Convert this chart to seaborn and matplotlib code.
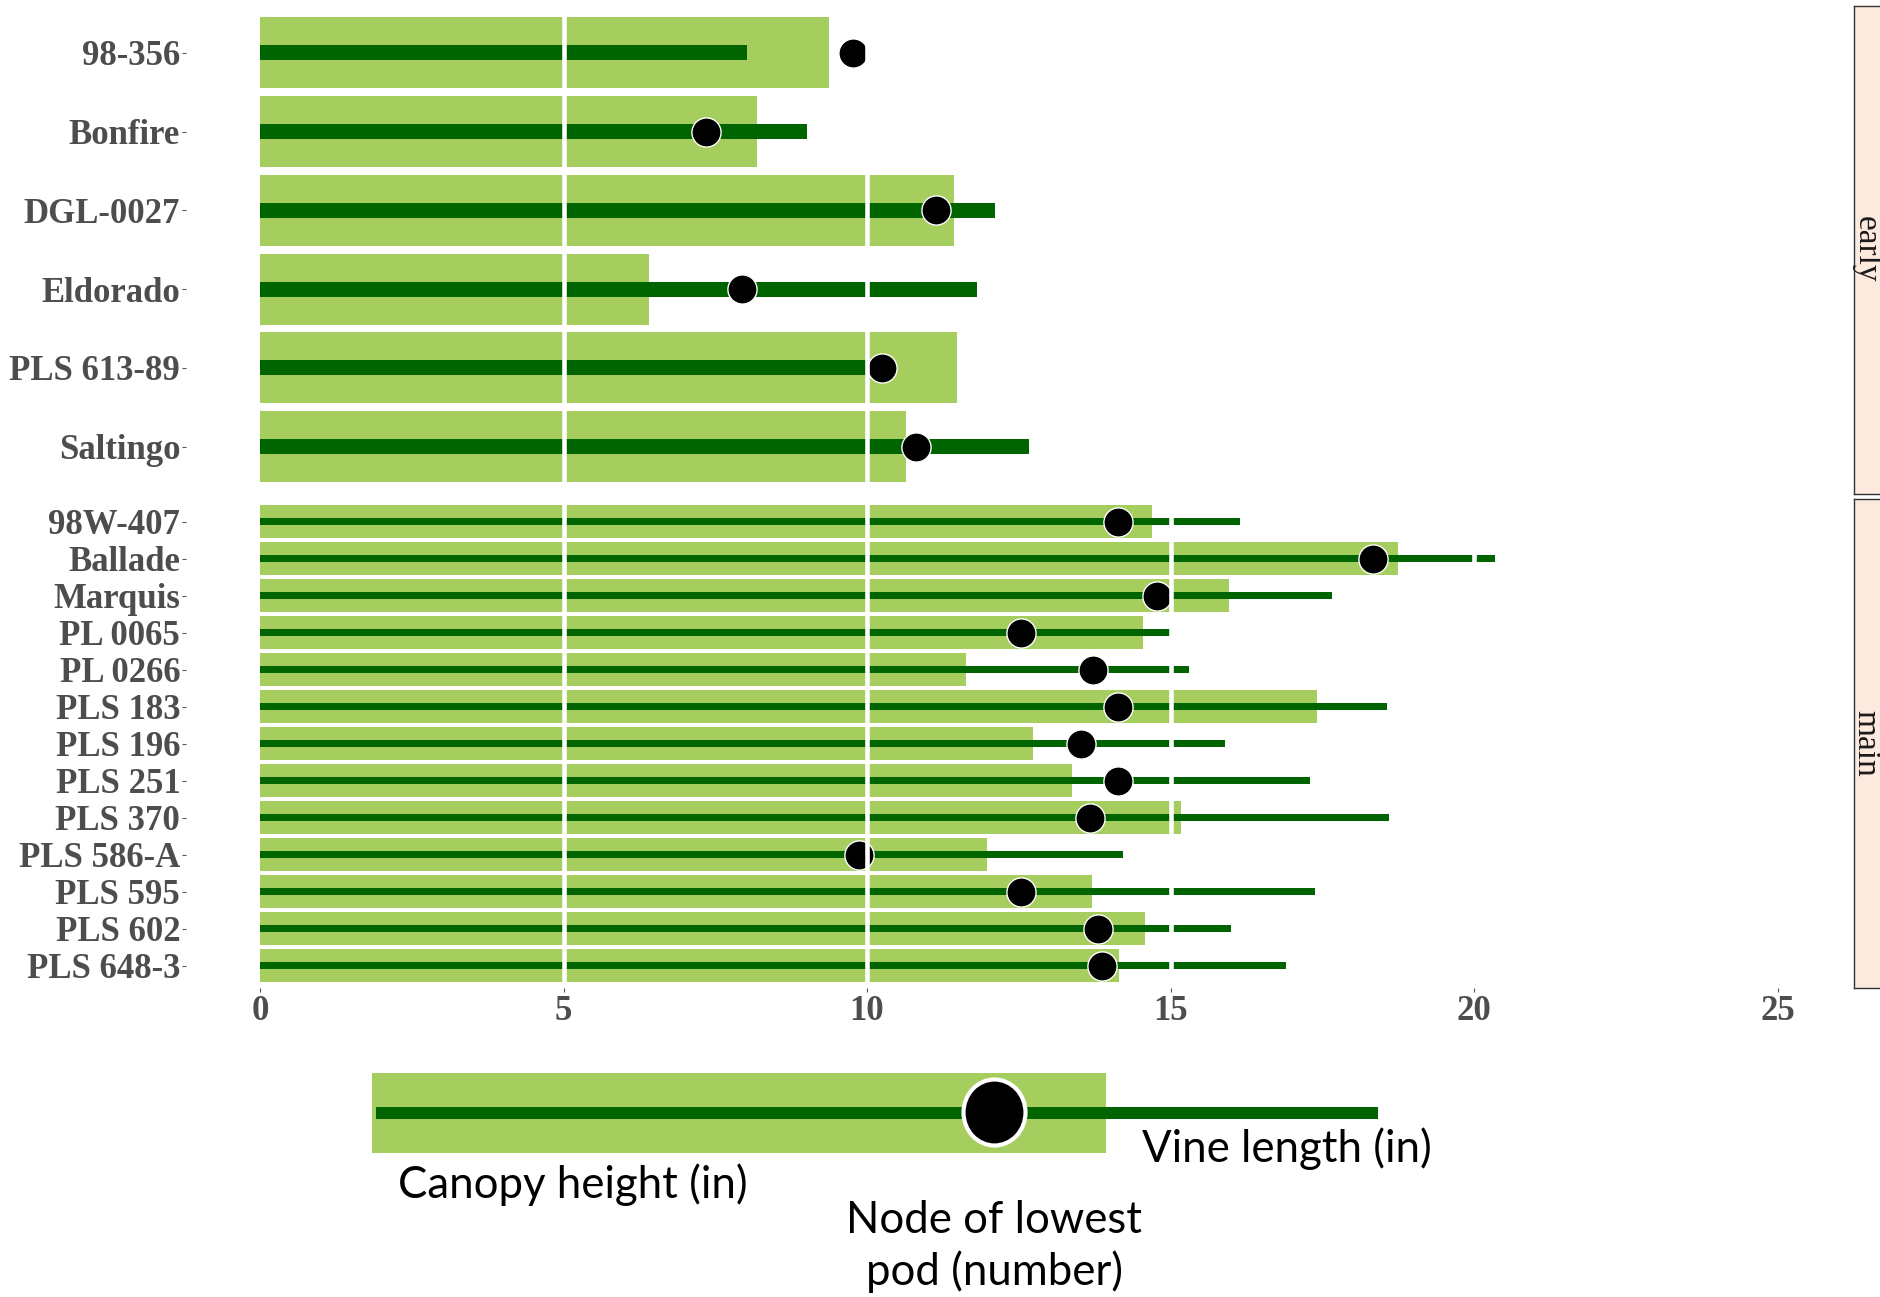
import matplotlib
matplotlib.use("Agg")
import matplotlib.pyplot as plt
import seaborn as sns
import pandas as pd
from matplotlib.patches import Rectangle, Ellipse

# ---------------- data ----------------
early_varieties = ["98-356", "Bonfire", "DGL-0027", "Eldorado", "PLS 613-89", "Saltingo"]
early_canopy = [9.37, 8.19, 11.44, 6.41, 11.49, 10.64]
early_vine = [8.03, 9.01, 12.11, 11.81, 10.10, 12.67]
early_node = [9.77, 7.34, 11.14, 7.94, 10.24, 10.80]

main_varieties = ["98W-407", "Ballade", "Marquis", "PL 0065", "PL 0266", "PLS 183",
                  "PLS 196", "PLS 251", "PLS 370", "PLS 586-A", "PLS 595", "PLS 602",
                  "PLS 648-3"]
main_canopy = [14.70, 18.74, 15.96, 14.55, 11.63, 17.41, 12.73, 13.37, 15.18, 11.97,
               13.71, 14.58, 14.15]
main_vine = [16.15, 20.35, 17.66, 15.00, 15.31, 18.57, 15.89, 17.29, 18.60, 14.22,
             17.38, 15.99, 16.90]
main_node = [14.13, 18.34, 14.78, 12.53, 13.73, 14.13, 13.53, 14.13, 13.67, 9.86,
             12.53, 13.81, 13.87]

groups = ["early", "main"]
x_ticks = [0, 5, 10, 15, 20, 25]
legend_labels = ["Vine length (in)", "Canopy height (in)", "Node of lowest\npod (number)"]

LIGHT = "#A6CE5E"
DARK = "#006400"
STRIP = "#FDEADE"
TXT = "#4D4D4D"

sns.set_theme(style="white")
plt.rcParams["font.family"] = ["Liberation Serif", "DejaVu Serif"]

W, H = 1880, 1297
fig = plt.figure(figsize=(W / 100, H / 100), dpi=100)

panel_data = [
    (groups[0], early_varieties, early_canopy, early_vine, early_node, 5.5, 494.0),
    (groups[1], main_varieties, main_canopy, main_vine, main_node, 499.5, 988.0),
]
PL, PR = 260, 1854

for i, (grp, var, can, vine, node, top, bot) in enumerate(panel_data):
    ax = fig.add_axes([PL / W, 1 - bot / H, (PR - PL) / W, (bot - top) / H])
    df = pd.DataFrame({"variety": var, "canopy": can, "vine": vine, "node": node})
    sns.barplot(data=df, x="canopy", y="variety", orient="h", color=LIGHT, width=0.9,
                saturation=1, errorbar=None, linewidth=0, ax=ax)
    sns.barplot(data=df, x="vine", y="variety", orient="h", color=DARK, width=0.19,
                saturation=1, errorbar=None, linewidth=0, ax=ax)
    sns.stripplot(data=df, x="node", y="variety", orient="h", jitter=False, size=21,
                  color="black", edgecolor="white", linewidth=1.0, ax=ax, zorder=3)
    n = len(var)
    ax.set_xlim(0, 26.26)
    ax.set_ylim(n - 1 + 0.6, -0.6)
    for v in x_ticks[1:]:
        ax.axvline(v, color="white", lw=3.3, zorder=5)
    ax.set_xlabel("")
    ax.set_ylabel("")
    ax.set_facecolor("white")
    for s in ["top", "right", "bottom"]:
        ax.spines[s].set_visible(False)
    ax.spines["left"].set_position(("outward", 53))
    ax.spines["left"].set_visible(False)
    ax.tick_params(axis="y", left=True, length=3, width=0.8, color="#555555",
                   pad=1.5, labelsize=25, labelcolor=TXT)
    for lab in ax.get_yticklabels():
        lab.set_fontweight("bold")
    if i == 0:
        ax.tick_params(axis="x", bottom=False, labelbottom=False)
    else:
        ax.set_xticks(x_ticks)
        ax.set_xticklabels([str(t) for t in x_ticks])
        ax.tick_params(axis="x", bottom=True, length=3, width=0.8, color="#555555",
                       pad=2, labelsize=25, labelcolor=TXT)
        for lab in ax.get_xticklabels():
            lab.set_fontweight("bold")

    # facet strip
    sax = fig.add_axes([PR / W, 1 - bot / H, 32 / W, (bot - top) / H])
    sax.set_facecolor(STRIP)
    sax.set_xticks([])
    sax.set_yticks([])
    for s in sax.spines.values():
        s.set_color("#333333")
        s.set_linewidth(1)
        s.set_visible(True)
    sax.text(0.36, 0.5, grp, rotation=-90, ha="center", va="center", fontsize=24,
             color="#1A1A1A", transform=sax.transAxes)

# ---------------- legend key ----------------
lax = fig.add_axes([0, 0, 1, 297 / H])
lax.set_xlim(0, W)
lax.set_ylim(H, 1000)
lax.axis("off")
lax.add_patch(Rectangle((372, 1073), 734, 80, facecolor=LIGHT, edgecolor="none"))
lax.add_patch(Rectangle((376, 1107), 1002, 12, facecolor=DARK, edgecolor="none"))
lax.add_patch(Ellipse((994.5, 1112.5), 62, 66, facecolor="black", edgecolor="white", lw=3))
lfont = dict(family=["Lato", "DejaVu Sans"], fontsize=31.5, color="black")
lax.text(1142, 1162, legend_labels[0], ha="left", va="baseline", **lfont)
lax.text(398, 1198, legend_labels[1], ha="left", va="baseline", **lfont)
l1, l2 = legend_labels[2].split("\n")
lax.text(994.5, 1233, l1, ha="center", va="baseline", **lfont)
lax.text(994.5, 1285, l2, ha="center", va="baseline", **lfont)

fig.savefig("out.png", dpi=100)
